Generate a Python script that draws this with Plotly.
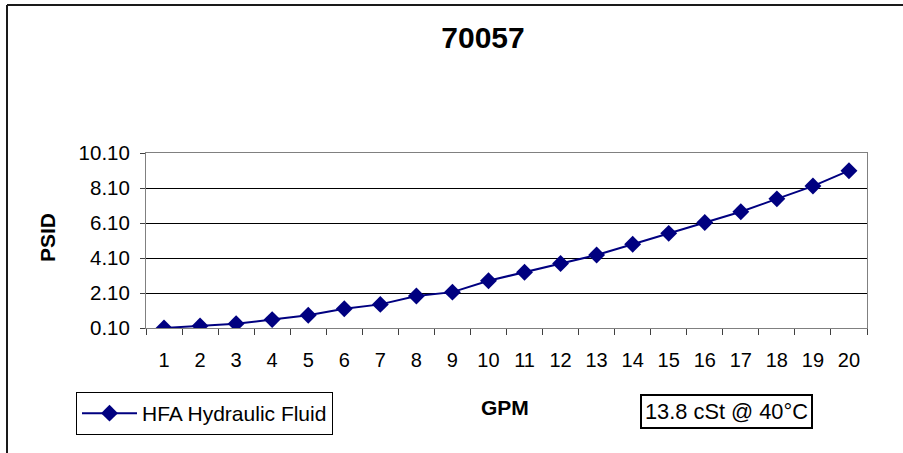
import plotly.graph_objects as go

gpm = [str(i) for i in range(1, 21)]
psid = [0.10, 0.22, 0.35, 0.58, 0.83, 1.20, 1.45, 1.93, 2.15, 2.80,
        3.29, 3.79, 4.27, 4.89, 5.51, 6.13, 6.74, 7.48, 8.21, 9.09]
series_name = "HFA Hydraulic Fluid"
title_text = "70057"
viscosity_note = "13.8 cSt @ 40°C"

W, H = 903, 453
L, R, T, B = 146, 867, 153, 328

def px(x):
    return (x - L) / (R - L)

def py(y):
    return (B - y) / (B - T)

fig = go.Figure()
fig.add_trace(go.Scatter(
    x=gpm, y=psid, mode="lines+markers", name=series_name,
    line=dict(color="#000080", width=2),
    marker=dict(symbol="diamond", size=13, color="#000080"),
))

font_family = "Liberation Sans, Arial, sans-serif"

fig.update_layout(
    width=W, height=H,
    margin=dict(l=L, r=W - R, t=T, b=H - B, pad=0, autoexpand=False),
    paper_bgcolor="white", plot_bgcolor="white",
    font=dict(family=font_family, size=20, color="black"),
    title=dict(text="<b>" + title_text + "</b>", x=483 / W, y=1 - 37 / H,
               xref="container", yref="container", xanchor="center",
               yanchor="middle", font=dict(size=30, color="black")),
    showlegend=True,
    legend=dict(x=px(76), y=py(392), xanchor="left", yanchor="top",
                bordercolor="black", borderwidth=1, bgcolor="white",
                font=dict(size=21), itemwidth=55),
    xaxis=dict(type="category", tickson="boundaries", ticks="outside",
               range=[-0.5, len(gpm) - 0.5], autorange=False,
               ticklen=6, tickcolor="#404040", showline=True,
               linecolor="#808080", linewidth=1, mirror=True,
               showgrid=False, tickfont=dict(size=20),
               ticklabelstandoff=14, automargin=False),
    yaxis=dict(range=[0.1, 10.1], tick0=0.1, dtick=2, tickformat=".2f",
               ticks="outside", ticklen=5, tickcolor="#404040",
               showline=True, linecolor="#808080", linewidth=1, mirror=True,
               showgrid=True, gridcolor="black", gridwidth=1,
               zeroline=False, tickfont=dict(size=20.5),
               ticklabelstandoff=6, automargin=False),
    shapes=[
        dict(type="line", xref="paper", yref="paper",
             x0=px(7), x1=px(904), y0=py(5), y1=py(5),
             line=dict(color="#1a1a1a", width=2)),
        dict(type="line", xref="paper", yref="paper",
             x0=px(7), x1=px(7), y0=py(5), y1=py(454),
             line=dict(color="#1a1a1a", width=2)),
    ],
    annotations=[
        dict(text="<b>PSID</b>", xref="paper", yref="paper",
             x=px(47), y=py(238), xanchor="center", yanchor="middle",
             textangle=-90, showarrow=False, font=dict(size=21)),
        dict(text="<b>GPM</b>", xref="paper", yref="paper",
             x=px(505), y=py(407), xanchor="center", yanchor="middle",
             showarrow=False, font=dict(size=21)),
        dict(text=viscosity_note, xref="paper", yref="paper",
             x=px(726.5), y=py(411.5), xanchor="center", yanchor="middle",
             showarrow=False, font=dict(size=21.8),
             bordercolor="black", borderwidth=2, borderpad=3,
             bgcolor="white"),
    ],
)

fig.write_html("out.html",
               config={"displayModeBar": False},
               post_script="document.body.style.margin='0';"
                           "document.body.style.overflow='hidden';")
